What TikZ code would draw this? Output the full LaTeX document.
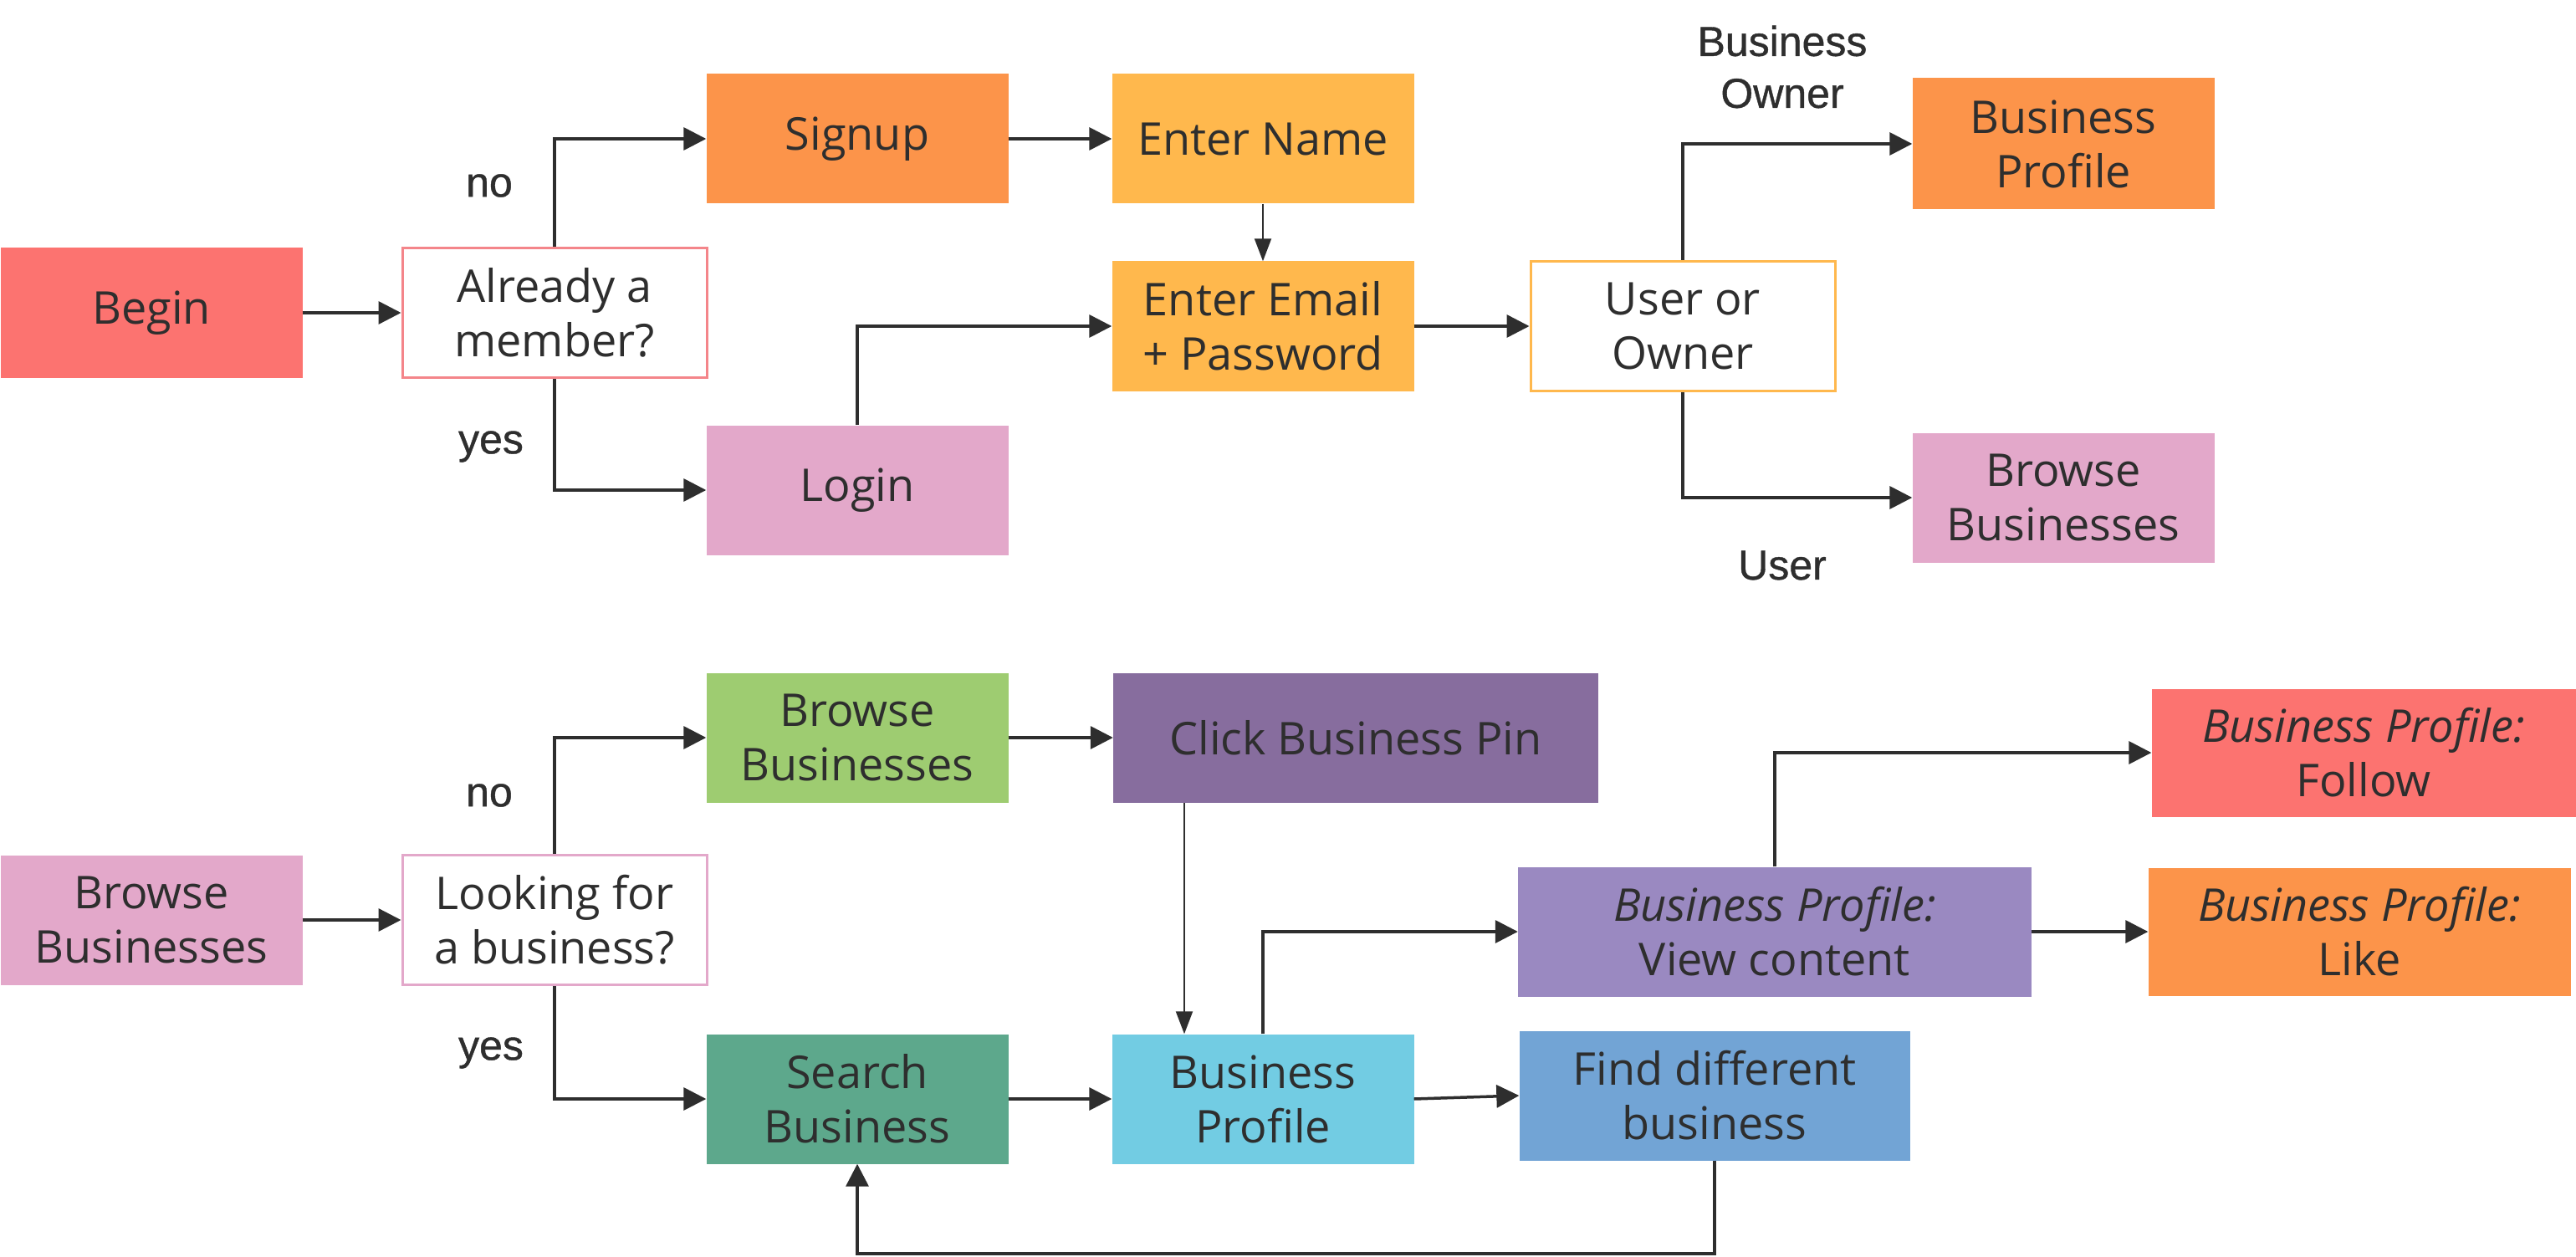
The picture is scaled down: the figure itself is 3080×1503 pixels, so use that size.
\documentclass[tikz,border=0pt]{standalone}
\usepackage{fontspec}
\setmainfont{Open Sans}
\newfontfamily\labelfont[FakeBold=0.8]{Liberation Sans}
\usetikzlibrary{arrows.meta,calc}
\definecolor{coral}{HTML}{FC7370}
\definecolor{tangerine}{HTML}{FC944A}
\definecolor{amber}{HTML}{FFB84D}
\definecolor{orchid}{HTML}{E3A8CA}
\definecolor{leaf}{HTML}{9ECC71}
\definecolor{plum}{HTML}{876D9E}
\definecolor{teal}{HTML}{5DA88C}
\definecolor{sky}{HTML}{72CCE3}
\definecolor{lilac}{HTML}{9A89C1}
\definecolor{steel}{HTML}{72A4D5}
\definecolor{rosered}{HTML}{F4858A}
\definecolor{ink}{HTML}{2E2E2E}
\tikzset{
  box/.style={rectangle, minimum width=361pt, minimum height=155pt, inner sep=0pt,
    align=center, text=ink, font=\fontsize{54}{65}\selectfont},
  decision/.style={box, draw, line width=3pt, fill=white},
  flow/.style={draw=ink, line width=3.5pt, -{Triangle[length=27pt,width=27pt]}},
  thinflow/.style={draw=ink, line width=2pt, -{Triangle[length=27pt,width=20pt]}},
  lbl/.style={font=\labelfont\fontsize{50}{62}\selectfont, text=ink, align=center},
}
\begin{document}
\begin{tikzpicture}[x=1pt,y=-1pt]
  \useasboundingbox (0,0) rectangle (3080,1503);

  %%%%% SIGN IN %%%%%
  \node[box, fill=coral] (begin) at (181,374) {Begin};
  \node[decision, draw=rosered, minimum width=364pt] (member) at (663,374) {Already a\\member?};
  \node[box, fill=tangerine] (signup) at (1025,166) {Signup};
  \node[box, fill=amber] (name) at (1510,166) {Enter Name};
  \node[box, fill=amber] (email) at (1510,390) {Enter Email\\+ Password};
  \node[box, fill=orchid] (login) at (1025,586) {Login};
  \node[decision, draw=amber, minimum width=364pt] (role) at (2012,390) {User or\\Owner};
  \node[box, fill=tangerine, minimum height=157pt] (ownerprof) at (2467,172) {Business\\Profile};
  \node[box, fill=orchid] (userbrowse) at (2467,595) {Browse\\Businesses};

  \node[lbl] (no1) at (585,222) {no};
  \node[lbl] (yes1) at (587,534) {yes};
  \node[lbl] (owner) at (2131,80) {Business\\Owner};
  \node[lbl] (user) at (2131,676) {User};

  \draw[flow] (begin) -- (member);
  \draw[flow] (member.north) |- (signup.west);
  \draw[flow] (member.south) |- (login.west);
  \draw[flow] (signup) -- (name);
  \draw[thinflow] (name) -- (email);
  \draw[flow] (login.north) |- (email.west);
  \draw[flow] (email) -- (role);
  \draw[flow] (role.north) |- (ownerprof.west);
  \draw[flow] (role.south) |- (userbrowse.west);

  %%%%% BROWSE %%%%%
  \node[box, fill=orchid] (browse) at (181,1100) {Browse\\Businesses};
  \node[decision, draw=orchid, minimum width=364pt] (looking) at (663,1100) {Looking for\\a business?};
  \node[box, fill=leaf] (map) at (1025,882) {Browse\\Businesses};
  \node[box, fill=plum, minimum width=580pt] (pin) at (1621,882) {Click Business Pin};
  \node[box, fill=teal] (search) at (1025,1314) {Search\\Business};
  \node[box, fill=sky] (profile) at (1510,1314) {Business\\Profile};
  \node[box, fill=lilac, minimum width=614pt] (view) at (2122,1114) {{\itshape Business Profile:}\\View content};
  \node[box, fill=steel, minimum width=467pt] (find) at (2050,1310) {Find different\\business};
  \node[box, fill=coral, minimum width=507pt, minimum height=153pt] (follow) at (2826,900) {{\itshape Business Profile:}\\Follow};
  \node[box, fill=tangerine, minimum width=505pt, minimum height=153pt] (like) at (2821,1114) {{\itshape Business Profile:}\\Like};

  \node[lbl] (no2) at (585,951) {no};
  \node[lbl] (yes2) at (587,1259) {yes};
  \coordinate (loop) at (2050,1499);

  \draw[flow] (browse) -- (looking);
  \draw[flow] (looking.north) |- (map.west);
  \draw[flow] (looking.south) |- (search.west);
  \draw[flow] (map) -- (pin);
  \draw[thinflow] ([xshift=-205pt]pin.south) -- ([xshift=-94pt]profile.north);
  \draw[flow] (search) -- (profile);
  \draw[flow] (profile.north) |- (view.west);
  \draw[flow] (profile.east) -- (find.west);
  \draw[flow] (view.north) |- (follow.west);
  \draw[flow] (view) -- (like);
  \draw[flow] (find.south) -- (loop) -| (search.south);
\end{tikzpicture}
\end{document}
